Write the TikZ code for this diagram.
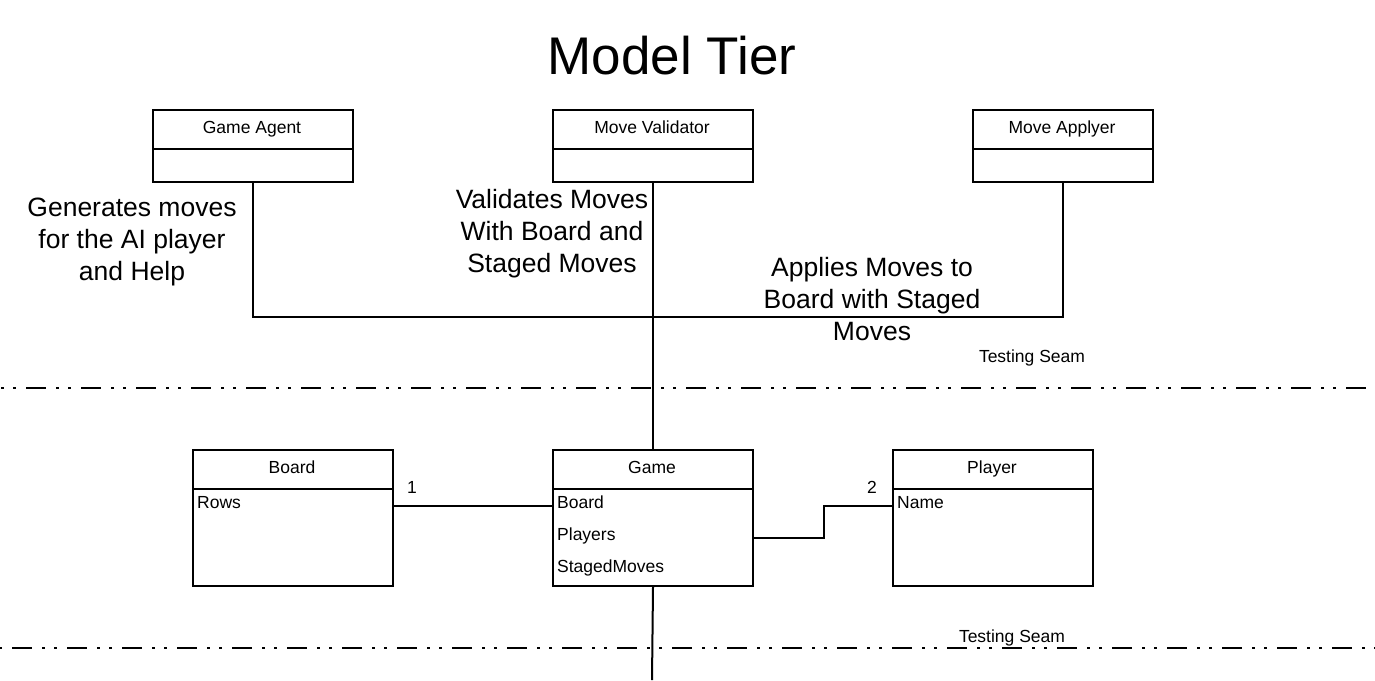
\documentclass[tikz,border=0pt]{standalone}
\usepackage{fontspec}
\setmainfont{Liberation Sans}
\begin{document}
\begin{tikzpicture}[x=1pt,y=-1pt,
  box/.style={draw,line width=2pt,anchor=north west,inner sep=0pt,minimum width=200pt},
  hdr/.style={font=\fontsize{17.5}{21}\selectfont,inner sep=0pt,anchor=base},
  attr/.style={font=\fontsize{17.5}{21}\selectfont,anchor=base west,inner sep=0pt},
  small/.style={font=\fontsize{17.5}{21}\selectfont,inner sep=0pt,anchor=base},
  big/.style={font=\fontsize{26.5}{32}\selectfont,align=center,inner sep=0pt},
  conn/.style={line width=2pt},
  seam/.style={line width=2pt,dash pattern=on 20pt off 10pt on 3pt off 9pt on 3pt off 10pt}]
\useasboundingbox (0,0) rectangle (1375,680);

% title
\node[font=\fontsize{53}{60}\selectfont,inner sep=0pt] (title) at (672,56) {Model Tier};

% upper classes
\node[box,minimum height=72pt] (ga) at (152,109) {};
\draw[conn] (152,149) -- (352,149);
\node[hdr] (gat) at (252,133) {Game Agent};

\node[box,minimum height=72pt] (mv) at (552,109) {};
\draw[conn] (552,149) -- (752,149);
\node[hdr] (mvt) at (652,133) {Move Validator};

\node[box,minimum height=72pt,minimum width=180pt] (ma) at (972,109) {};
\draw[conn] (972,149) -- (1152,149);
\node[hdr] (mat) at (1062,133) {Move Applyer};

% lower classes
\node[box,minimum height=136pt] (board) at (192,449) {};
\draw[conn] (192,489) -- (392,489);
\node[hdr] (boardt) at (292,473) {Board};
\node[attr] (rows) at (197,508) {Rows};

\node[box,minimum height=136pt] (game) at (552,449) {};
\draw[conn] (552,489) -- (752,489);
\node[hdr] (gamet) at (652,473) {Game};
\node[attr] (gb) at (557,508) {Board};
\node[attr] (gp) at (557,540) {Players};
\node[attr] (gs) at (557,572) {StagedMoves};

\node[box,minimum height=136pt] (player) at (892,449) {};
\draw[conn] (892,489) -- (1092,489);
\node[hdr] (playert) at (992,473) {Player};
\node[attr] (pn) at (897,508) {Name};

% connectors
\draw[conn] (ga.south) -- ++(0,134) -| (ma.south);
\draw[conn] (mv.south) -- (game.north);
\draw[conn] ([yshift=12pt]board.east) -- ([yshift=12pt]game.west);
\node[small] (one) at (412,493) {1};
\draw[conn] ([yshift=-20pt]game.east) -- ++(70,0) |- ([yshift=12pt]player.west);
\node[small] (two) at (872,493) {2};
\coordinate (gend) at (652,680);
\draw[conn] (game.south) -- (gend);

% labels
\node[big] (l1) at (132,242) {Generates moves\\for the AI player\\and Help};
\node[big] (l2) at (552,234) {Validates Moves\\With Board and\\Staged Moves};
\node[big] (l3) at (872,299) {Applies Moves to\\Board with Staged\\Moves};

% seams
\coordinate (s1a) at (0,388);
\coordinate (s1b) at (1375,388);
\draw[seam,dash phase=29pt] (s1a) -- (s1b);
\node[small] (ts1) at (1032,362) {Testing Seam};
\coordinate (s2a) at (0,648);
\coordinate (s2b) at (1375,648);
\draw[seam,dash phase=43pt] (s2a) -- (s2b);
\node[small] (ts2) at (1012,642) {Testing Seam};
\end{tikzpicture}
\end{document}
